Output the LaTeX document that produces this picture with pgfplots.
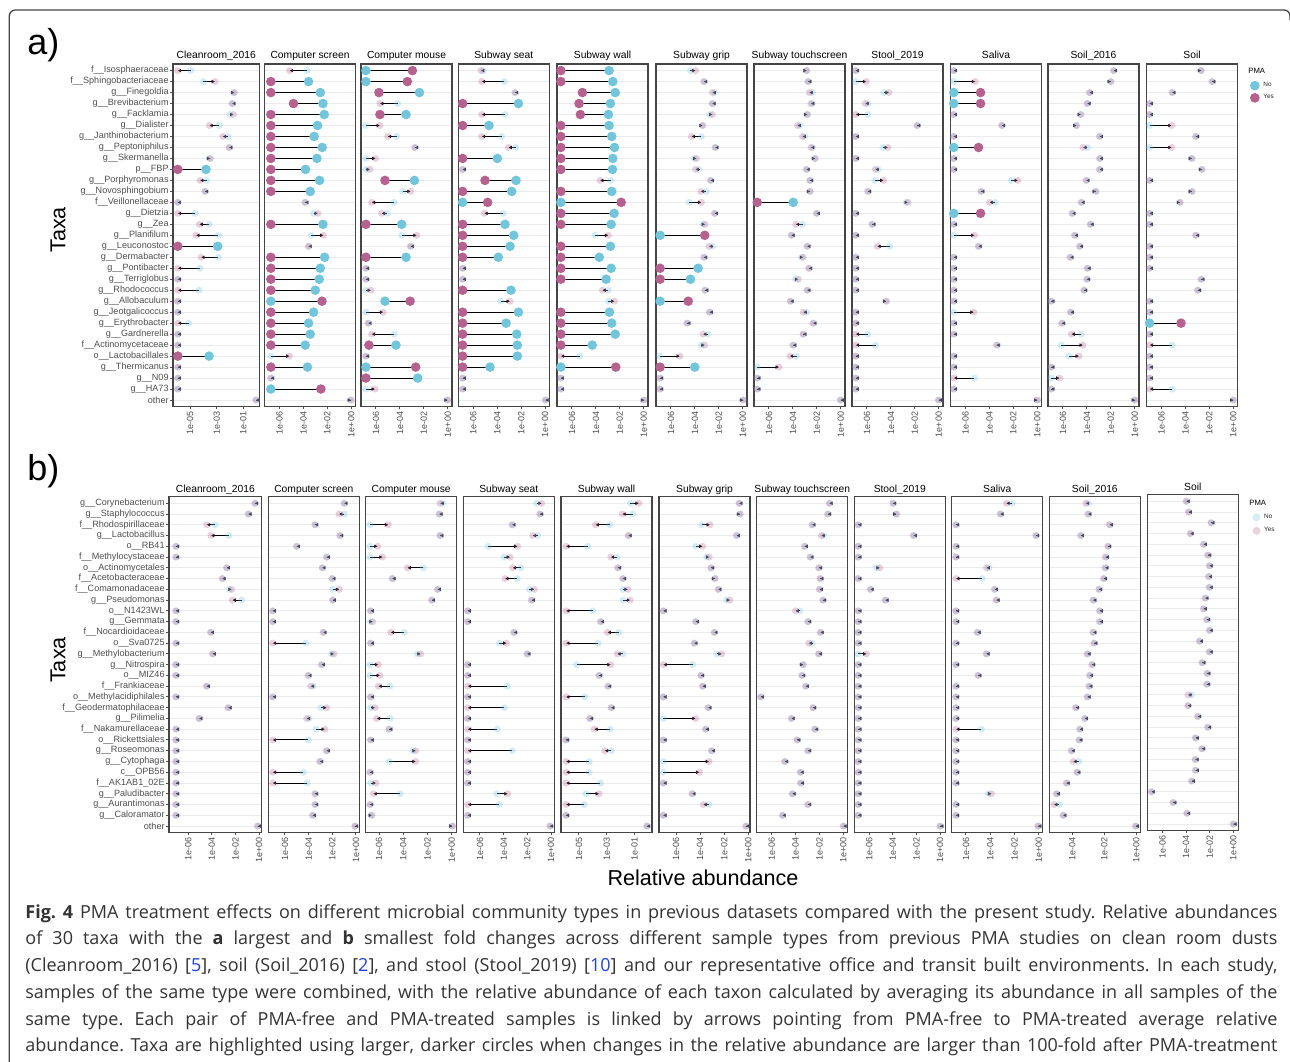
\documentclass[border=0pt]{standalone}
\usepackage{fontspec}
\setmainfont{Liberation Sans}
\newfontfamily\capfont{Open Sans}
\usepackage{pgfplots}
\pgfplotsset{compat=1.18}
\usepackage{pgfplotstable}
\usetikzlibrary{arrows.meta}
\frenchspacing

\definecolor{cblue}{HTML}{72C5DB}
\definecolor{cpurp}{HTML}{B5638E}
\definecolor{gridc}{HTML}{EBEBEB}
\definecolor{framec}{HTML}{454545}
\definecolor{tickc}{HTML}{4D4D4D}
\definecolor{capc}{HTML}{333333}
\definecolor{linkc}{HTML}{2040E0}

\newcommand\fs[1]{\fontsize{#1}{#1}\selectfont}
\newcommand\lk[1]{\textcolor{linkc}{#1}}
\def\uu{\_\_}

\pgfplotsset{
  facet/.style={scale only axis, width=45.5pt, anchor=north west,
    ymin=0.4, ymax=31.6, y dir=reverse,
    ytick={1,...,31}, yticklabels={}, ymajorgrids,
    major grid style={draw=gridc, line width=0.5pt},
    axis line style={draw=framec, line width=0.6pt},
    tick align=outside, tick pos=left, major tick length=1.4pt,
    tick style={draw=tickc, line width=0.5pt},
    ytick style={draw=none},
    xmin=-7.25, xmax=0.35,
    xtick={-6,-4,-2,0}, xticklabels={1e-06,1e-04,1e-02,1e+00},
    xticklabel style={rotate=90, anchor=east, font=\fs{4.5pt}, text=tickc, inner sep=1pt},
    every axis title/.style={at={(0.5,1)}, anchor=base, font=\fs{5.15pt}, inner sep=0pt},
  },
  panela/.style={height=171.3pt, title style={yshift=2.8pt}},
  panelb/.style={height=167.85pt, title style={yshift=2.2pt}},
  sm/.style={only marks, mark=*, mark size=1.75pt,
    mark options={fill=#1, draw opacity=0, fill opacity=0.3},
    restrict expr to domain={\thisrow{hl}}{-1:0.5}},
  bg/.style={only marks, mark=*, mark size=2.4pt,
    mark options={fill=#1, draw opacity=0},
    restrict expr to domain={\thisrow{hl}}{0.5:2}},
  arq/.style={draw=black, line width=0.5pt, -{Latex[length=1.7pt,width=1.9pt]},
    quiver={u=\thisrow{yes}-\thisrow{no}, v=0}},
  firsty/.style={ytick style={draw=tickc},
    yticklabel style={font=\fs{4.55pt}, text=tickc, inner sep=0.6pt}},
  firstA/.style={firsty, yticklabels={f\uu Isosphaeraceae, f\uu Sphingobacteriaceae,
    g\uu Finegoldia, g\uu Brevibacterium, g\uu Facklamia, g\uu Dialister,
    g\uu Janthinobacterium, g\uu Peptoniphilus, g\uu Skermanella, p\uu FBP,
    g\uu Porphyromonas, g\uu Novosphingobium, f\uu Veillonellaceae, g\uu Dietzia,
    g\uu Zea, g\uu Planifilum, g\uu Leuconostoc, g\uu Dermabacter, g\uu Pontibacter,
    g\uu Terriglobus, g\uu Rhodococcus, g\uu Allobaculum, g\uu Jeotgalicoccus,
    g\uu Erythrobacter, g\uu Gardnerella, f\uu Actinomycetaceae, o\uu Lactobacillales,
    g\uu Thermicanus, g\uu N09, g\uu HA73, other}},
  firstB/.style={firsty, yticklabels={g\uu Corynebacterium, g\uu Staphylococcus,
    f\uu Rhodospirillaceae, g\uu Lactobacillus, o\uu RB41, f\uu Methylocystaceae,
    o\uu Actinomycetales, f\uu Acetobacteraceae, f\uu Comamonadaceae, g\uu Pseudomonas,
    o\uu N1423WL, g\uu Gemmata, f\uu Nocardioidaceae, o\uu Sva0725,
    g\uu Methylobacterium, g\uu Nitrospira, o\uu MIZ46, f\uu Frankiaceae,
    o\uu Methylacidiphilales, f\uu Geodermatophilaceae, g\uu Pilimelia,
    f\uu Nakamurellaceae, o\uu Rickettsiales, g\uu Roseomonas, g\uu Cytophaga,
    c\uu OPB56, f\uu AK1AB1\_02E, g\uu Paludibacter, g\uu Aurantimonas,
    g\uu Caloramator, other}},
  legbase/.style={legend cell align=left, legend style={anchor=north west, draw=none,
    fill=none, inner sep=0pt, font=\fs{3.2pt}, text=black!85,
    nodes={inner sep=0.5pt}, /tikz/every odd column/.append style={column sep=1.4pt}}},
}

\newcommand\facet[4]{%
  \begin{axis}[facet,#1,title={#2}]
    #4
    \addplot[sm=cblue] table[x=no,y=r]{#3};
    \addplot[sm=cpurp] table[x=yes,y=r]{#3};
    \addplot[bg=cblue] table[x=no,y=r]{#3};
    \addplot[bg=cpurp] table[x=yes,y=r]{#3};
    \addplot[arq] table[x=no,y=r]{#3};
  \end{axis}}

% ---------- panel a: log10 relative abundance, No / Yes, highlighted ----------
\pgfplotstableread{
r no yes hl
1 -4.95 -5.92 0
2 -4.00 -3.12 0
3 -1.72 -1.66 0
4 -1.80 -1.84 0
5 -2.00 -1.74 0
6 -2.82 -3.55 0
7 -2.14 -2.54 0
8 -2.03 -2.07 0
9 -3.53 -3.47 0
10 -3.80 -5.92 1
11 -3.75 -4.25 0
12 -3.85 -3.89 0
13 -5.90 -5.94 0
14 -4.62 -5.92 0
15 -3.55 -4.30 0
16 -2.87 -4.55 0
17 -2.92 -5.92 1
18 -2.87 -4.17 0
19 -4.25 -5.92 0
20 -5.90 -5.94 0
21 -4.32 -5.92 0
22 -5.90 -5.94 0
23 -5.90 -5.94 0
24 -5.10 -5.92 0
25 -5.90 -5.94 0
26 -5.90 -5.94 0
27 -3.57 -5.92 1
28 -5.90 -5.94 0
29 -5.90 -5.94 0
30 -5.90 -5.94 0
31 -0.02 -0.06 0
}\aCR
\pgfplotstableread{
r no yes hl
1 -3.71 -5.16 0
2 -3.57 -6.72 1
3 -2.59 -6.72 1
4 -2.37 -4.83 1
5 -2.26 -6.72 1
6 -2.82 -6.72 1
7 -3.10 -6.72 1
8 -2.43 -6.72 1
9 -2.87 -6.72 1
10 -3.82 -6.72 1
11 -2.65 -6.72 1
12 -3.43 -6.72 1
13 -3.83 -3.87 0
14 -3.15 -2.79 0
15 -2.37 -6.72 1
16 -3.35 -2.32 0
17 -3.55 -3.59 0
18 -2.23 -6.72 1
19 -2.59 -6.72 1
20 -2.68 -6.72 1
21 -3.01 -6.72 1
22 -6.72 -2.45 1
23 -3.15 -6.72 1
24 -3.57 -6.72 1
25 -3.43 -6.72 1
26 -3.85 -6.72 1
27 -6.72 -5.16 0
28 -3.66 -6.72 1
29 -6.70 -6.74 0
30 -6.72 -2.54 1
31 -0.06 -0.02 0
}\aCS
\pgfplotstableread{
r no yes hl
1 -6.84 -2.96 1
2 -6.84 -3.38 1
3 -2.37 -5.75 1
4 -4.19 -5.67 0
5 -3.49 -5.67 1
6 -6.84 -5.67 0
7 -4.27 -5.02 0
8 -2.72 -2.76 0
9 -6.84 -6.03 0
10 -6.84 -6.50 0
11 -2.79 -5.25 1
12 -3.77 -3.10 0
13 -4.49 -6.36 0
14 -5.05 -5.53 0
15 -3.85 -6.84 1
16 -3.85 -2.60 0
17 -3.08 -3.12 0
18 -3.49 -6.84 1
19 -6.82 -6.86 0
20 -6.82 -6.86 0
21 -6.84 -6.42 0
22 -5.25 -3.15 1
23 -6.84 -5.39 0
24 -6.62 -6.66 0
25 -4.47 -6.36 0
26 -4.33 -6.59 1
27 -6.82 -6.86 0
28 -6.84 -2.68 1
29 -2.51 -6.84 1
30 -6.84 -6.08 0
31 -0.04 0.00 0
}\aCM
\pgfplotstableread{
r no yes hl
1 -5.16 -5.36 0
2 -3.40 -5.30 0
3 -2.49 -2.53 0
4 -2.23 -6.89 1
5 -3.35 -5.30 0
6 -4.69 -6.89 1
7 -3.63 -5.30 0
8 -2.46 -3.07 0
9 -3.99 -6.89 1
10 -6.87 -6.91 0
11 -2.43 -5.02 1
12 -2.79 -6.89 1
13 -6.89 -4.80 1
14 -3.49 -5.08 0
15 -3.35 -6.89 1
16 -2.62 -6.89 1
17 -2.93 -6.89 1
18 -3.91 -6.89 1
19 -6.87 -6.91 0
20 -6.87 -6.91 0
21 -2.85 -6.89 1
22 -3.71 -2.93 0
23 -2.23 -6.89 1
24 -3.26 -6.89 1
25 -2.37 -6.89 1
26 -2.32 -6.89 1
27 -2.32 -6.89 1
28 -4.60 -6.89 1
29 -6.87 -6.91 0
30 -6.87 -6.91 0
31 0.04 0.00 0
}\aSS
\pgfplotstableread{
r no yes hl
1 -2.90 -6.93 1
2 -2.59 -6.93 1
3 -2.39 -5.13 1
4 -2.79 -5.41 1
5 -2.96 -5.30 1
6 -2.90 -6.93 1
7 -2.68 -6.93 1
8 -2.45 -6.93 1
9 -2.59 -6.93 1
10 -2.62 -6.93 1
11 -2.76 -3.66 0
12 -2.68 -6.93 1
13 -6.93 -1.89 1
14 -2.48 -6.93 1
15 -2.73 -6.93 1
16 -4.08 -2.96 0
17 -2.79 -6.93 1
18 -3.72 -6.93 1
19 -2.73 -6.93 1
20 -3.15 -6.93 1
21 -2.96 -3.46 0
22 -2.96 -2.45 0
23 -2.87 -6.93 1
24 -2.68 -6.93 1
25 -2.39 -6.93 1
26 -4.31 -6.93 1
27 -5.35 -6.93 0
28 -6.93 -2.34 1
29 -6.91 -6.95 0
30 -6.91 -6.95 0
31 0.00 0.04 0
}\aSW
\pgfplotstableread{
r no yes hl
1 -4.37 -3.95 0
2 -3.22 -3.26 0
3 -2.35 -2.54 0
4 -2.52 -2.56 0
5 -2.77 -2.54 0
6 -3.39 -3.35 0
7 -3.46 -4.29 0
8 -2.28 -2.32 0
9 -4.06 -3.87 0
10 -3.68 -3.95 0
11 -2.66 -2.70 0
12 -3.04 -3.51 0
13 -4.48 -3.46 0
14 -2.33 -2.37 0
15 -3.32 -3.15 0
16 -6.91 -3.18 1
17 -2.54 -2.82 0
18 -3.22 -3.26 0
19 -3.73 -6.91 1
20 -4.37 -6.91 1
21 -3.13 -3.17 0
22 -6.91 -4.56 1
23 -2.75 -2.79 0
24 -4.63 -4.67 0
25 -2.90 -3.32 0
26 -3.46 -3.18 0
27 -6.95 -5.25 0
28 -4.01 -6.91 1
29 -6.89 -6.93 0
30 -6.89 -6.93 0
31 0.00 0.04 0
}\aSG
\pgfplotstableread{
r no yes hl
1 -2.88 -2.84 0
2 -2.70 -2.74 0
3 -2.36 -2.64 0
4 -2.36 -2.50 0
5 -2.82 -2.78 0
6 -3.42 -3.62 0
7 -3.00 -3.20 0
8 -2.36 -2.50 0
9 -2.18 -2.14 0
10 -2.84 -2.88 0
11 -2.56 -2.60 0
12 -2.60 -2.56 0
13 -3.98 -6.98 1
14 -2.00 -2.04 0
15 -3.20 -3.76 0
16 -4.10 -4.14 0
17 -2.78 -2.82 0
18 -3.28 -3.14 0
19 -2.64 -2.68 0
20 -3.79 -3.56 0
21 -2.78 -2.82 0
22 -4.19 -4.23 0
23 -2.86 -3.14 0
24 -2.28 -2.32 0
25 -3.12 -3.16 0
26 -3.96 -4.00 0
27 -3.70 -4.26 0
28 -6.98 -5.16 0
29 -6.96 -7.00 0
30 -6.96 -7.00 0
31 0.00 -0.04 0
}\aST
\pgfplotstableread{
r no yes hl
1 -6.92 -6.96 0
2 -6.94 -6.06 0
3 -4.58 -4.17 0
4 -5.92 -6.14 0
5 -5.92 -6.94 0
6 -1.79 -1.83 0
7 -6.92 -6.96 0
8 -4.67 -4.25 0
9 -6.92 -6.96 0
10 -5.08 -5.31 0
11 -5.36 -4.61 0
12 -5.90 -5.94 0
13 -2.72 -2.58 0
14 -6.92 -6.96 0
15 -5.54 -5.58 0
16 -6.92 -6.96 0
17 -4.11 -5.14 0
18 -6.92 -6.96 0
19 -6.92 -6.96 0
20 -6.92 -6.96 0
21 -6.92 -6.96 0
22 -4.41 -4.37 0
23 -6.92 -6.96 0
24 -6.92 -6.96 0
25 -5.92 -6.94 0
26 -5.28 -6.94 0
27 -6.92 -6.96 0
28 -6.92 -6.96 0
29 -6.92 -6.96 0
30 -6.92 -6.96 0
31 0.00 -0.04 0
}\aSt
\pgfplotstableread{
r no yes hl
1 -6.96 -7.00 0
2 -6.98 -5.19 0
3 -6.98 -4.74 1
4 -6.98 -4.74 1
5 -6.96 -7.00 0
6 -2.94 -2.98 0
7 -6.96 -7.00 0
8 -6.98 -4.91 1
9 -6.96 -7.00 0
10 -6.96 -7.00 0
11 -2.18 -1.62 0
12 -4.67 -4.71 0
13 -3.52 -3.99 0
14 -6.98 -4.74 1
15 -6.96 -7.00 0
16 -6.98 -5.25 0
17 -4.89 -4.93 0
18 -6.96 -7.00 0
19 -6.96 -7.00 0
20 -6.96 -7.00 0
21 -6.96 -7.00 0
22 -6.96 -7.00 0
23 -6.98 -5.30 0
24 -6.96 -7.00 0
25 -6.96 -7.00 0
26 -3.29 -3.43 0
27 -6.96 -7.00 0
28 -6.96 -7.00 0
29 -5.25 -6.98 0
30 -6.96 -7.00 0
31 -0.02 0.02 0
}\aSa
\pgfplotstableread{
r no yes hl
1 -1.74 -1.78 0
2 -2.03 -1.99 0
3 -3.75 -3.79 0
4 -3.94 -3.98 0
5 -4.54 -4.50 0
6 -4.90 -4.86 0
7 -2.91 -2.95 0
8 -3.96 -4.33 0
9 -2.91 -2.95 0
10 -2.91 -2.95 0
11 -4.03 -4.07 0
12 -3.28 -3.24 0
13 -4.44 -4.48 0
14 -5.20 -5.24 0
15 -3.69 -3.73 0
16 -5.00 -5.04 0
17 -4.58 -4.62 0
18 -5.37 -5.41 0
19 -3.94 -3.98 0
20 -3.97 -4.01 0
21 -4.22 -4.26 0
22 -6.96 -7.00 0
23 -5.34 -5.38 0
24 -6.06 -6.10 0
25 -4.46 -5.30 0
26 -6.14 -4.33 0
27 -5.50 -4.66 0
28 -6.96 -7.00 0
29 -6.98 -6.28 0
30 -6.96 -7.00 0
31 -0.02 0.02 0
}\aSSix
\pgfplotstableread{
r no yes hl
1 -2.72 -2.68 0
2 -1.75 -1.79 0
3 -5.08 -5.12 0
4 -6.97 -7.01 0
5 -6.97 -7.01 0
6 -6.99 -5.15 0
7 -3.11 -3.15 0
8 -6.99 -5.15 0
9 -3.48 -3.44 0
10 -2.64 -2.60 0
11 -6.97 -7.01 0
12 -3.48 -3.44 0
13 -4.47 -4.43 0
14 -6.97 -7.01 0
15 -6.97 -7.01 0
16 -3.11 -3.15 0
17 -6.97 -7.01 0
18 -6.97 -7.01 0
19 -6.97 -7.01 0
20 -2.66 -2.70 0
21 -2.94 -2.98 0
22 -6.97 -7.01 0
23 -6.97 -7.01 0
24 -6.99 -4.37 1
25 -6.97 -7.01 0
26 -5.10 -6.99 0
27 -6.97 -7.01 0
28 -6.97 -7.01 0
29 -6.97 -7.01 0
30 -5.10 -6.99 0
31 -0.02 0.02 0
}\aSo

% ---------- panel b ----------
\pgfplotstableread{
r no yes hl
1 -0.32 -0.36 0
2 -0.88 -0.92 0
3 -3.74 -4.44 0
4 -2.55 -4.08 0
5 -7.03 -7.07 0
6 -7.03 -7.07 0
7 -2.72 -2.76 0
8 -3.09 -3.13 0
9 -2.52 -2.32 0
10 -1.47 -2.26 0
11 -7.03 -7.07 0
12 -7.03 -7.07 0
13 -4.08 -4.12 0
14 -7.03 -7.07 0
15 -3.91 -3.95 0
16 -7.03 -7.07 0
17 -7.03 -7.07 0
18 -4.42 -4.46 0
19 -7.03 -7.07 0
20 -2.58 -2.62 0
21 -5.05 -5.09 0
22 -7.03 -7.07 0
23 -7.03 -7.07 0
24 -7.03 -7.07 0
25 -7.03 -7.07 0
26 -7.03 -7.07 0
27 -7.03 -7.07 0
28 -7.03 -7.07 0
29 -7.03 -7.07 0
30 -7.03 -7.07 0
31 -0.09 -0.13 0
}\bCR
\pgfplotstableread{
r no yes hl
1 -0.97 -1.01 0
2 -0.99 -1.44 0
3 -3.44 -3.48 0
4 -1.33 -1.37 0
5 -4.99 -5.03 0
6 -2.46 -2.50 0
7 -2.83 -2.87 0
8 -1.98 -2.02 0
9 -1.97 -1.41 0
10 -1.95 -1.99 0
11 -7.02 -7.06 0
12 -7.02 -7.06 0
13 -2.74 -2.78 0
14 -4.25 -7.04 0
15 -2.06 -1.86 0
16 -2.88 -2.92 0
17 -4.01 -4.05 0
18 -3.61 -3.83 0
19 -7.02 -7.06 0
20 -2.96 -2.48 0
21 -3.97 -4.17 0
22 -3.38 -2.62 0
23 -4.03 -7.04 0
24 -2.46 -2.50 0
25 -3.02 -3.06 0
26 -4.45 -7.04 0
27 -4.11 -7.04 0
28 -3.44 -3.48 0
29 -3.44 -3.48 0
30 -3.64 -3.68 0
31 -0.06 -0.10 0
}\bCS
\pgfplotstableread{
r no yes hl
1 -0.74 -0.96 0
2 -1.00 -1.04 0
3 -6.74 -5.23 0
4 -0.94 -0.98 0
5 -6.74 -6.11 0
6 -6.74 -5.70 0
7 -2.34 -3.66 0
8 -4.88 -4.92 0
9 -1.14 -1.18 0
10 -1.63 -1.67 0
11 -6.67 -6.71 0
12 -6.69 -6.52 0
13 -3.91 -5.04 0
14 -6.67 -6.71 0
15 -2.83 -2.56 0
16 -6.74 -6.06 0
17 -6.74 -5.92 0
18 -5.09 -6.06 0
19 -6.67 -6.71 0
20 -6.69 -6.33 0
21 -5.09 -6.19 0
22 -5.15 -5.19 0
23 -6.67 -6.71 0
24 -3.22 -2.97 0
25 -5.15 -2.97 0
26 -6.72 -6.76 0
27 -6.69 -6.25 0
28 -4.27 -6.47 0
29 -6.72 -6.76 0
30 -6.64 -6.58 0
31 0.03 0.07 0
}\bCM
\pgfplotstableread{
r no yes hl
1 -1.21 -0.79 0
2 -0.91 -0.95 0
3 -3.25 -3.29 0
4 -1.13 -1.55 0
5 -5.30 -2.82 0
6 -3.97 -3.46 0
7 -2.54 -3.24 0
8 -2.85 -3.89 0
9 -1.83 -1.41 0
10 -1.61 -1.65 0
11 -7.02 -7.06 0
12 -7.02 -7.06 0
13 -3.11 -3.15 0
14 -4.37 -3.75 0
15 -1.98 -2.02 0
16 -7.02 -7.06 0
17 -7.02 -7.06 0
18 -3.69 -7.04 0
19 -7.02 -7.06 0
20 -3.94 -7.04 0
21 -7.02 -7.06 0
22 -4.54 -7.04 0
23 -7.02 -7.06 0
24 -3.27 -7.04 0
25 -7.02 -7.06 0
26 -7.02 -7.06 0
27 -7.02 -7.06 0
28 -4.59 -3.66 0
29 -4.37 -7.04 0
30 -7.02 -7.06 0
31 -0.06 -0.10 0
}\bSS
\pgfplotstableread{
r no yes hl
1 -1.29 -0.69 0
2 -1.12 -1.88 0
3 -2.79 -3.81 0
4 -1.41 -1.45 0
5 -4.38 -5.93 0
6 -2.24 -2.71 0
7 -2.17 -2.21 0
8 -1.81 -1.85 0
9 -1.83 -1.48 0
10 -1.83 -1.31 0
11 -4.02 -5.93 0
12 -3.41 -3.45 0
13 -2.14 -2.95 0
14 -3.62 -5.93 0
15 -1.83 -2.24 0
16 -5.17 -2.71 0
17 -3.53 -3.57 0
18 -2.88 -2.92 0
19 -4.57 -5.93 0
20 -2.65 -2.69 0
21 -4.19 -4.23 0
22 -2.74 -3.90 0
23 -5.91 -5.95 0
24 -2.67 -3.14 0
25 -4.26 -5.93 0
26 -4.26 -5.93 0
27 -3.45 -5.93 0
28 -4.50 -3.55 0
29 -4.62 -5.93 0
30 -5.91 -5.95 0
31 -0.08 -0.12 0
}\bSW
\pgfplotstableread{
r no yes hl
1 -0.73 -0.77 0
2 -0.71 -0.67 0
3 -3.87 -3.18 0
4 -0.95 -0.99 0
5 -4.37 -3.79 0
6 -3.46 -3.24 0
7 -3.08 -3.12 0
8 -2.79 -2.75 0
9 -2.47 -2.51 0
10 -1.80 -1.52 0
11 -7.03 -7.07 0
12 -4.35 -4.39 0
13 -2.80 -2.84 0
14 -4.46 -4.50 0
15 -2.63 -2.21 0
16 -4.62 -7.05 0
17 -3.91 -3.95 0
18 -3.77 -3.81 0
19 -7.03 -7.07 0
20 -3.30 -3.34 0
21 -7.05 -4.37 0
22 -3.52 -3.56 0
23 -7.03 -7.07 0
24 -3.02 -3.06 0
25 -7.05 -3.26 0
26 -7.05 -4.06 0
27 -7.03 -7.07 0
28 -4.63 -4.67 0
29 -3.26 -3.73 0
30 -7.03 -7.07 0
31 -0.17 -0.21 0
}\bSG
\pgfplotstableread{
r no yes hl
1 -1.14 -1.18 0
2 -1.28 -1.32 0
3 -2.58 -2.62 0
4 -1.66 -1.85 0
5 -3.22 -3.26 0
6 -2.75 -2.79 0
7 -2.03 -2.07 0
8 -1.92 -1.96 0
9 -1.97 -2.01 0
10 -1.69 -1.73 0
11 -3.65 -4.01 0
12 -2.94 -2.98 0
13 -1.89 -1.93 0
14 -2.63 -2.90 0
15 -2.05 -2.09 0
16 -3.39 -3.35 0
17 -3.44 -3.48 0
18 -3.13 -3.17 0
19 -6.89 -6.93 0
20 -2.52 -2.56 0
21 -4.32 -4.36 0
22 -2.36 -2.40 0
23 -3.85 -3.89 0
24 -2.94 -2.98 0
25 -4.87 -4.91 0
26 -3.57 -3.61 0
27 -3.55 -3.59 0
28 -4.24 -4.28 0
29 -2.94 -2.98 0
30 -5.07 -5.11 0
31 0.02 -0.02 0
}\bST
\pgfplotstableread{
r no yes hl
1 -3.96 -4.00 0
2 -3.72 -3.68 0
3 -6.91 -6.95 0
4 -2.22 -2.26 0
5 -6.91 -6.95 0
6 -6.91 -6.95 0
7 -5.38 -5.10 0
8 -6.91 -6.95 0
9 -5.87 -5.91 0
10 -4.61 -4.65 0
11 -6.91 -6.95 0
12 -6.91 -6.95 0
13 -6.91 -6.95 0
14 -6.91 -6.95 0
15 -6.93 -6.22 0
16 -6.91 -6.95 0
17 -6.91 -6.95 0
18 -6.91 -6.95 0
19 -6.91 -6.95 0
20 -6.91 -6.95 0
21 -6.91 -6.95 0
22 -6.91 -6.95 0
23 -6.91 -6.95 0
24 -6.91 -6.95 0
25 -6.91 -6.95 0
26 -6.91 -6.95 0
27 -6.91 -6.95 0
28 -6.91 -6.95 0
29 -6.91 -6.95 0
30 -6.91 -6.95 0
31 0.02 -0.02 0
}\bSt
\pgfplotstableread{
r no yes hl
1 -2.18 -2.67 0
2 -3.14 -3.18 0
3 -6.80 -6.84 0
4 -0.20 -0.24 0
5 -6.80 -6.84 0
6 -6.80 -6.84 0
7 -4.09 -4.31 0
8 -4.66 -6.82 0
9 -3.61 -3.65 0
10 -3.47 -3.51 0
11 -6.80 -6.84 0
12 -6.80 -6.84 0
13 -5.03 -5.07 0
14 -6.80 -6.84 0
15 -4.29 -4.33 0
16 -6.80 -6.84 0
17 -4.97 -5.01 0
18 -6.80 -6.84 0
19 -6.80 -6.84 0
20 -6.80 -6.84 0
21 -6.80 -6.84 0
22 -4.72 -6.82 0
23 -6.80 -6.84 0
24 -6.80 -6.84 0
25 -6.80 -6.84 0
26 -6.80 -6.84 0
27 -6.80 -6.84 0
28 -4.17 -3.90 0
29 -6.80 -6.84 0
30 -6.80 -6.84 0
31 -0.03 -0.07 0
}\bSa
\pgfplotstableread{
r no yes hl
1 -3.00 -3.15 0
2 -2.98 -3.02 0
3 -1.64 -1.68 0
4 -3.44 -3.48 0
5 -1.74 -1.78 0
6 -1.89 -1.93 0
7 -1.91 -1.95 0
8 -2.01 -2.05 0
9 -2.30 -2.34 0
10 -2.67 -2.71 0
11 -2.26 -2.30 0
12 -2.26 -2.30 0
13 -2.67 -2.71 0
14 -2.61 -2.65 0
15 -3.03 -3.07 0
16 -2.74 -2.78 0
17 -2.88 -2.92 0
18 -2.92 -2.96 0
19 -3.03 -3.07 0
20 -3.75 -3.79 0
21 -3.19 -3.23 0
22 -3.50 -3.54 0
23 -3.54 -3.58 0
24 -4.02 -4.06 0
25 -3.59 -3.94 0
26 -3.67 -3.71 0
27 -4.33 -4.37 0
28 -4.95 -4.99 0
29 -4.81 -5.14 0
30 -4.54 -4.58 0
31 -0.02 -0.06 0
}\bSSix
\pgfplotstableread{
r no yes hl
1 -3.96 -4.00 0
2 -3.77 -3.81 0
3 -1.86 -1.90 0
4 -3.62 -3.66 0
5 -2.50 -2.54 0
6 -2.14 -2.18 0
7 -2.00 -2.04 0
8 -2.06 -2.10 0
9 -2.00 -2.04 0
10 -2.36 -2.40 0
11 -2.50 -2.54 0
12 -2.22 -2.26 0
13 -2.00 -2.04 0
14 -2.84 -2.88 0
15 -2.00 -2.04 0
16 -2.62 -2.66 0
17 -2.20 -2.24 0
18 -2.22 -2.26 0
19 -3.56 -3.84 0
20 -3.82 -3.86 0
21 -2.98 -3.02 0
22 -2.14 -2.18 0
23 -3.18 -3.22 0
24 -2.64 -2.68 0
25 -3.20 -3.24 0
26 -3.18 -3.22 0
27 -3.51 -3.55 0
28 -6.91 -6.95 0
29 -5.08 -5.12 0
30 -3.91 -3.95 0
31 0.02 -0.02 0
}\bSo

\begin{document}
\begin{tikzpicture}
\begin{scope}[x=0.5pt,y=-0.5pt]
  \path[use as bounding box] (0,0) rectangle (1290,1061);
  \draw[framec, line width=0.65pt] (9.3,1062) -- (9.3,16)
    arc[start angle=180, end angle=270, radius=6] -- (1284,10)
    arc[start angle=270, end angle=360, radius=6] -- (1290,20);
  \node[anchor=base west, inner sep=0pt, font=\fs{18pt}] at (27,54.5) {a)};
  \node[anchor=base west, inner sep=0pt, font=\fs{18pt}] at (27,480.5) {b)};
  \node[rotate=90, inner sep=0pt, font=\fs{10.8pt}] at (58,230) {Taxa};
  \node[rotate=90, inner sep=0pt, font=\fs{10.8pt}] at (58,660) {Taxa};
  \node[inner sep=0pt, font=\fs{10.8pt}] at (703,878) {Relative abundance};
  \node[anchor=west, inner sep=0pt, font=\fs{3.85pt}] at (1248,71) {PMA};
  \node[anchor=west, inner sep=0pt, font=\fs{3.85pt}] at (1249,503) {PMA};
  \begin{scope}[every node/.style={anchor=base west, inner sep=0pt, text=capc, font=\capfont\fs{9pt}}]
    \node at (25,918) {\makebox[626pt][s]{\textbf{Fig. 4} PMA treatment effects on different microbial community types in previous datasets compared with the present study. Relative abundances}};
    \node at (25,944.7) {\makebox[626pt][s]{of 30 taxa with the \textbf{a} largest and \textbf{b} smallest fold changes across different sample types from previous PMA studies on clean room dusts}};
    \node at (25,971.5) {\makebox[626pt][s]{(Cleanroom\_2016) [\lk{5}], soil (Soil\_2016) [\lk{2}], and stool (Stool\_2019) [\lk{10}] and our representative office and transit built environments. In each study,}};
    \node at (25,998.3) {\makebox[626pt][s]{samples of the same type were combined, with the relative abundance of each taxon calculated by averaging its abundance in all samples of the}};
    \node at (25,1025) {\makebox[626pt][s]{same type. Each pair of PMA-free and PMA-treated samples is linked by arrows pointing from PMA-free to PMA-treated average relative}};
    \node at (25,1051.8) {\makebox[626pt][s]{abundance. Taxa are highlighted using larger, darker circles when changes in the relative abundance are larger than 100-fold after PMA-treatment}};
  \end{scope}
\end{scope}

% panel a
\facet{at={(86.5pt,-32pt)}, panela, firstA, width=43.25pt, xmin=-6.28, xmax=0.22,
  xtick={-5,-3,-1}, xticklabels={1e-05,1e-03,1e-01}}{Cleanroom\_2016}{\aCR}{}
\facet{at={(132.25pt,-32pt)}, panela}{Computer screen}{\aCS}{}
\facet{at={(180.5pt,-32pt)}, panela}{Computer mouse}{\aCM}{}
\facet{at={(229.15pt,-32pt)}, panela}{Subway seat}{\aSS}{}
\facet{at={(278.5pt,-32pt)}, panela}{Subway wall}{\aSW}{}
\facet{at={(328pt,-32pt)}, panela}{Subway grip}{\aSG}{}
\facet{at={(377pt,-32pt)}, panela}{Subway touchscreen}{\aST}{}
\facet{at={(426pt,-32pt)}, panela}{Stool\_2019}{\aSt}{}
\facet{at={(475.25pt,-32pt)}, panela}{Saliva}{\aSa}{}
\facet{at={(524pt,-32pt)}, panela}{Soil\_2016}{\aSSix}{}
\facet{at={(573.25pt,-32pt)}, panela, legbase, legend style={at={(1.133,0.952)}, row sep=1.3pt}}{Soil}{\aSo}{%
  \addlegendimage{legend image code/.code={\fill[cblue] (0pt,0pt) circle (2.2pt);}}
  \addlegendentry{No}
  \addlegendimage{legend image code/.code={\fill[cpurp] (0pt,0pt) circle (2.2pt);}}
  \addlegendentry{Yes}}

% panel b
\facet{at={(84.5pt,-248.4pt)}, panelb, firstB, width=46.35pt, xmin=-7.64, xmax=0.23}{Cleanroom\_2016}{\bCR}{}
\facet{at={(134.15pt,-248.4pt)}, panelb, xmin=-7.41, xmax=0.28}{Computer screen}{\bCS}{}
\facet{at={(182.85pt,-248.4pt)}, panelb, xmin=-7.1, xmax=0.41}{Computer mouse}{\bCM}{}
\facet{at={(231.65pt,-248.4pt)}, panelb, xmin=-7.41, xmax=0.28}{Subway seat}{\bSS}{}
\facet{at={(280.5pt,-248.4pt)}, panelb, xmin=-6.29, xmax=0.26,
  xtick={-5,-3,-1}, xticklabels={1e-05,1e-03,1e-01}}{Subway wall}{\bSW}{}
\facet{at={(329.5pt,-248.4pt)}, panelb, xmin=-7.41, xmax=0.14}{Subway grip}{\bSG}{}
\facet{at={(378.35pt,-248.4pt)}, panelb, xmin=-7.25, xmax=0.36}{Subway touchscreen}{\bST}{}
\facet{at={(427.15pt,-248.4pt)}, panelb, xmin=-7.26, xmax=0.44}{Stool\_2019}{\bSt}{}
\facet{at={(475.85pt,-248.4pt)}, panelb, xmin=-7.17, xmax=0.33}{Saliva}{\bSa}{}
\facet{at={(524.65pt,-248.4pt)}, panelb, xmin=-5.43, xmax=0.25,
  xtick={-4,-2,0}, xticklabels={1e-04,1e-02,1e+00}}{Soil\_2016}{\bSSix}{}
\facet{at={(573.65pt,-247.4pt)}, panelb, xmin=-7.29, xmax=0.42, legbase,
  legend style={at={(1.153,0.948)}, row sep=2pt}}{Soil}{\bSo}{%
  \addlegendimage{legend image code/.code={\fill[cblue!30] (0pt,0pt) circle (1.75pt);}}
  \addlegendentry{No}
  \addlegendimage{legend image code/.code={\fill[cpurp!30] (0pt,0pt) circle (1.75pt);}}
  \addlegendentry{Yes}}
\end{tikzpicture}
\end{document}
